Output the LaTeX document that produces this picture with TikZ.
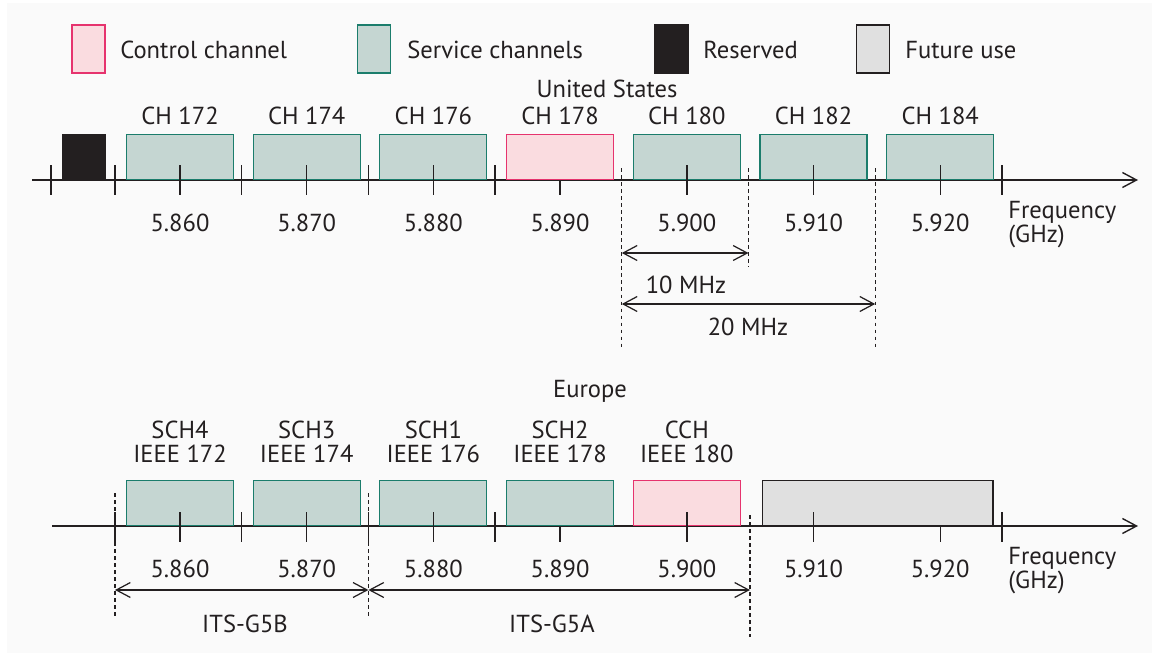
\documentclass[tikz,border=0pt]{standalone}
\usepackage{fontspec}
\setmainfont{PT Sans}
\usetikzlibrary{arrows.meta}

\tikzset{
    chan/.style={draw, inner sep=0pt, minimum width=2.14cm, minimum height=0.9cm, anchor=south, line width=0.6pt},
    cchbox/.style={chan, draw=cchline, fill=cchfill},
    schbox/.style={chan, draw=schline, fill=schfill},
    futbox/.style={chan, draw=ink, fill=futfill},
    resbox/.style={chan, draw=ink, fill=ink, minimum width=0.84cm},
    legbox/.style={draw, inner sep=0pt, minimum width=0.66cm, minimum height=0.96cm, line width=0.6pt},
    lbl/.style={inner sep=0pt, anchor=base, text=ink},
    axis/.style={draw=ink, line width=0.8pt, -{Straight Barb[length=8pt, width=8.5pt]}},
    tick/.style={draw=ink, line width=0.8pt},
    guide/.style={draw=ink, line width=0.7pt, dash pattern=on 2pt off 2pt},
    dim/.style={draw=ink, line width=0.7pt, {Straight Barb[length=8pt, width=8.5pt]}-{Straight Barb[length=8pt, width=8.5pt]}},
}

\begin{document}
\begin{tikzpicture}[x=0.02cm, y=-0.02cm, font=\fontsize{14}{13.6}\selectfont]
    \definecolor{ink}{HTML}{231F20}
    \definecolor{cchfill}{HTML}{FADCE0}
    \definecolor{cchline}{HTML}{E6336E}
    \definecolor{schfill}{HTML}{C5D6D2}
    \definecolor{schline}{HTML}{1B7D6C}
    \definecolor{futfill}{HTML}{E0E0E0}
    \definecolor{paper}{HTML}{FAFAFA}

    \useasboundingbox (0,0) rectangle (1157,656);
    \path[fill=white] (0,0) rectangle (1157,656);
    \path[fill=paper] (7,3) rectangle (1152,653);

    % legend
    \node[legbox, draw=cchline, fill=cchfill] (legcch) at (88.5,49) {};
    \node[lbl, anchor=base west] (legcchtxt) at (120,58) {Control channel};
    \node[legbox, draw=schline, fill=schfill] (legsch) at (374,49) {};
    \node[lbl, anchor=base west] (legschtxt) at (407,58) {Service channels};
    \node[legbox, draw=ink, fill=ink] (legres) at (671.5,49) {};
    \node[lbl, anchor=base west] (legrestxt) at (703,58) {Reserved};
    \node[legbox, draw=ink, fill=futfill] (legfut) at (873,49) {};
    \node[lbl, anchor=base west] (legfuttxt) at (905,58) {Future use};

    % United States
    \node[lbl] (ustitle) at (607,97) {United States};

    \coordinate (usstart) at (32,180);
    \coordinate (usend) at (1138,180);
    \path[axis] (usstart) -- (usend);

    \node[resbox] (usres) at (84,180) {};
    \node[schbox] (us172) at (180,180) {};
    \node[schbox] (us174) at (306.7,180) {};
    \node[schbox] (us176) at (433.4,180) {};
    \node[cchbox] (us178) at (560.1,180) {};
    \node[schbox] (us180) at (686.8,180) {};
    \node[schbox] (us182) at (813.5,180) {};
    \node[schbox] (us184) at (940.2,180) {};

    \path[tick] (51,165) -- (51,195);
    \path[tick] (115,165) -- (115,195);
    \path[tick] (241.7,165) -- (241.7,195);
    \path[tick] (368.4,165) -- (368.4,195);
    \path[tick] (495.1,165) -- (495.1,195);
    \path[tick] (1001.9,165) -- (1001.9,195);
    \path[tick] (180,165) -- (180,195);
    \path[tick] (306.7,165) -- (306.7,195);
    \path[tick] (433.4,165) -- (433.4,195);
    \path[tick] (560.1,180) -- (560.1,195);
    \path[tick] (686.8,165) -- (686.8,195);
    \path[tick] (813.5,165) -- (813.5,195);
    \path[tick] (940.2,165) -- (940.2,195);

    \node[lbl] (usl172) at (180,124) {CH 172};
    \node[lbl] (usl174) at (306.7,124) {CH 174};
    \node[lbl] (usl176) at (433.4,124) {CH 176};
    \node[lbl] (usl178) at (560.1,124) {CH 178};
    \node[lbl] (usl180) at (686.8,124) {CH 180};
    \node[lbl] (usl182) at (813.5,124) {CH 182};
    \node[lbl] (usl184) at (940.2,124) {CH 184};

    \node[lbl] (usf860) at (180,231.5) {5.860};
    \node[lbl] (usf870) at (306.7,231.5) {5.870};
    \node[lbl] (usf880) at (433.4,231.5) {5.880};
    \node[lbl] (usf890) at (560.1,231.5) {5.890};
    \node[lbl] (usf900) at (686.8,231.5) {5.900};
    \node[lbl] (usf910) at (813.5,231.5) {5.910};
    \node[lbl] (usf920) at (940.2,231.5) {5.920};
    \node[lbl, anchor=base west, align=left] (usfreq) at (1008,242) {Frequency\\(GHz)};

    \coordinate (usg1t) at (621.8,168);
    \coordinate (usg1b) at (621.8,348);
    \coordinate (usg2t) at (748.5,168);
    \coordinate (usg2b) at (748.5,267);
    \coordinate (usg3t) at (875.2,168);
    \coordinate (usg3b) at (875.2,348);
    \path[guide] (usg1t) -- (usg1b);
    \path[guide] (usg2t) -- (usg2b);
    \path[guide] (usg3t) -- (usg3b);

    \coordinate (d10a) at (621.8,253);
    \coordinate (d10b) at (748.5,253);
    \coordinate (d20a) at (621.8,304);
    \coordinate (d20b) at (875.2,304);
    \path[dim] (d10a) -- (d10b);
    \path[dim] (d20a) -- (d20b);
    \node[lbl] (l10) at (686,293) {10 MHz};
    \node[lbl] (l20) at (748,335) {20 MHz};

    % Europe
    \node[lbl] (eutitle) at (590,397) {Europe};

    \coordinate (eustart) at (52,526);
    \coordinate (euend) at (1138,526);
    \path[axis] (eustart) -- (euend);

    \node[schbox] (eu172) at (180,526) {};
    \node[schbox] (eu174) at (306.7,526) {};
    \node[schbox] (eu176) at (433.4,526) {};
    \node[schbox] (eu178) at (560.1,526) {};
    \node[cchbox] (eu180) at (686.8,526) {};
    \node[futbox, minimum width=4.62cm] (eufut) at (877.5,526) {};

    \path[tick] (115,512) -- (115,542);
    \path[tick] (241.7,512) -- (241.7,542);
    \path[tick] (368.4,512) -- (368.4,542);
    \path[tick] (495.1,512) -- (495.1,542);
    \path[tick] (1001.9,512) -- (1001.9,542);
    \path[tick] (180,512) -- (180,542);
    \path[tick] (306.7,512) -- (306.7,542);
    \path[tick] (433.4,512) -- (433.4,542);
    \path[tick] (560.1,526) -- (560.1,542);
    \path[tick] (686.8,512) -- (686.8,542);
    \path[tick] (813.5,512) -- (813.5,542);
    \path[tick] (940.2,526) -- (940.2,542);

    \node[lbl, align=center] (eul172) at (180,462) {SCH4\\IEEE 172};
    \node[lbl, align=center] (eul174) at (306.7,462) {SCH3\\IEEE 174};
    \node[lbl, align=center] (eul176) at (433.4,462) {SCH1\\IEEE 176};
    \node[lbl, align=center] (eul178) at (560.1,462) {SCH2\\IEEE 178};
    \node[lbl, align=center] (eul180) at (686.8,462) {CCH\\IEEE 180};

    \node[lbl] (euf860) at (180,577) {5.860};
    \node[lbl] (euf870) at (306.7,577) {5.870};
    \node[lbl] (euf880) at (433.4,577) {5.880};
    \node[lbl] (euf890) at (560.1,577) {5.890};
    \node[lbl] (euf900) at (686.8,577) {5.900};
    \node[lbl] (euf910) at (813.5,577) {5.910};
    \node[lbl] (euf920) at (940.2,577) {5.920};
    \node[lbl, anchor=base west, align=left] (eufreq) at (1008,588) {Frequency\\(GHz)};

    \coordinate (eug1t) at (115,493);
    \coordinate (eug1b) at (115,617);
    \coordinate (eug2t) at (368.4,493);
    \coordinate (eug2b) at (368.4,617);
    \coordinate (eug3t) at (750,515);
    \coordinate (eug3b) at (750,637);
    \path[guide] (eug1t) -- (eug1b);
    \path[guide] (eug2t) -- (eug2b);
    \path[guide] (eug3t) -- (eug3b);

    \coordinate (g5ba) at (115,590);
    \coordinate (g5bb) at (368.4,590);
    \coordinate (g5ab) at (750,590);
    \path[dim] (g5ba) -- (g5bb);
    \path[dim] (g5bb) -- (g5ab);
    \node[lbl] (lg5b) at (245,632) {ITS-G5B};
    \node[lbl] (lg5a) at (552,632) {ITS-G5A};

\end{tikzpicture}
\end{document}
